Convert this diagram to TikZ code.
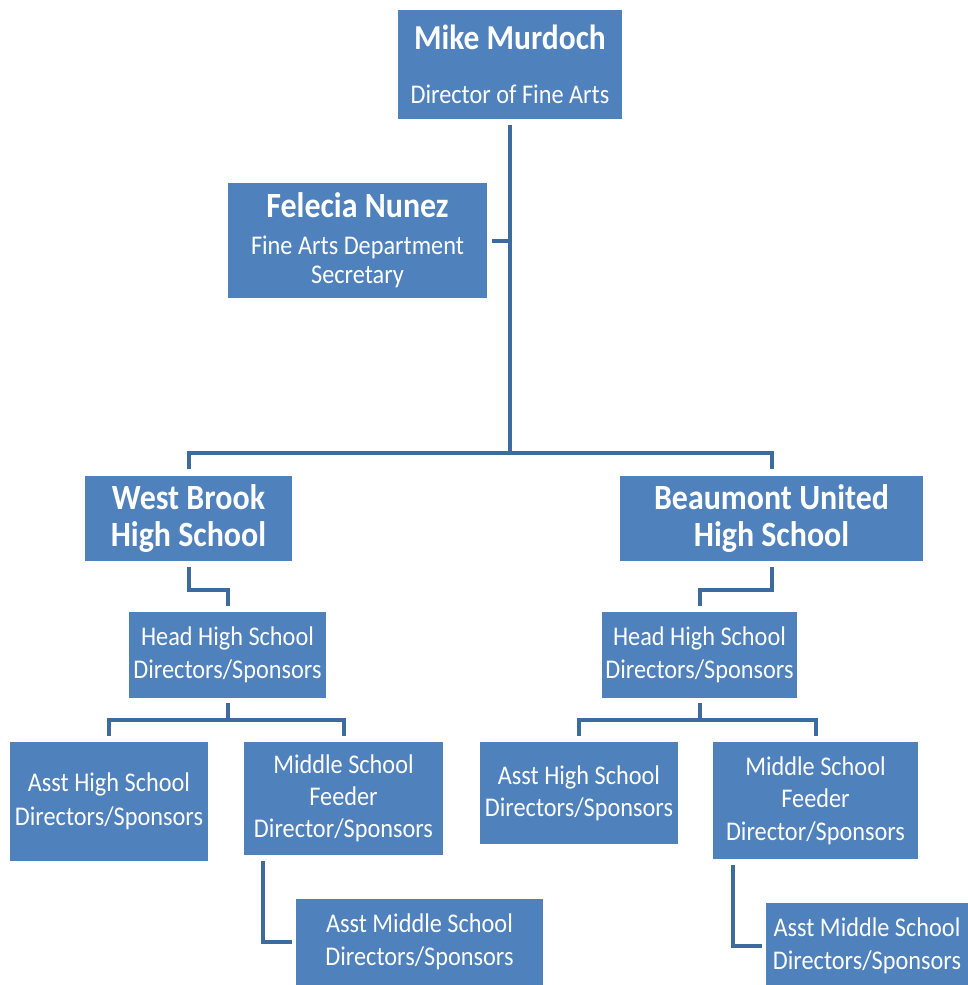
\documentclass[tikz,border=0pt]{standalone}
\usepackage{fontspec}
\setmainfont{Carlito}[FakeStretch=0.9]
\definecolor{boxblue}{HTML}{4F81BD}
\definecolor{lineblue}{HTML}{3D6B9E}
\begin{document}
\begin{tikzpicture}[x=1pt,y=-1pt,
  box/.style={fill=boxblue, text=white, inner sep=0pt, align=center,
    font=\fontsize{27}{33}\selectfont},
  bbox/.style={box, font=\bfseries\fontsize{35.5}{37}\selectfont},
  conn/.style={draw=lineblue, line width=4pt}]
\useasboundingbox (0,0) rectangle (968,985);

% boxes
\node[box, minimum width=224pt, minimum height=109pt] (mike) at (510,64.5)
  {{\bfseries\fontsize{35}{33}\selectfont Mike Murdoch}\\[21pt]Director of Fine Arts};
\node[box, minimum width=259pt, minimum height=115pt,
  font=\fontsize{27}{29}\selectfont] (fel) at (357.5,240.5)
  {{\bfseries\fontsize{35.5}{33}\selectfont Felecia Nunez}\\[8pt]Fine Arts Department\\Secretary};
\node[bbox, minimum width=207pt, minimum height=85pt] (wb) at (188.5,518.5)
  {West Brook\\High School};
\node[bbox, minimum width=303pt, minimum height=85pt] (bu) at (771.5,518.5)
  {Beaumont United\\High School};
\node[box, minimum width=197pt, minimum height=86pt] (hl) at (227.5,655)
  {Head High School\\Directors/Sponsors};
\node[box, minimum width=195pt, minimum height=86pt] (hr) at (699.5,655)
  {Head High School\\Directors/Sponsors};
\node[box, minimum width=198pt, minimum height=119pt,
  font=\fontsize{27}{34}\selectfont] (ahl) at (109,801.5)
  {Asst High School\\Directors/Sponsors};
\node[box, minimum width=199pt, minimum height=113pt,
  font=\fontsize{27}{32}\selectfont] (msl) at (343.5,798.5)
  {Middle School\\Feeder\\Director/Sponsors};
\node[box, minimum width=247pt, minimum height=86pt,
  font=\fontsize{27}{32.5}\selectfont] (amsl) at (419.5,942)
  {Asst Middle School\\Directors/Sponsors};
\node[box, minimum width=198pt, minimum height=102pt,
  font=\fontsize{27}{32}\selectfont] (ahr) at (579,793)
  {Asst High School\\Directors/Sponsors};
\node[box, minimum width=205pt, minimum height=117pt,
  font=\fontsize{27}{32.5}\selectfont] (msr) at (815.5,800.5)
  {Middle School\\Feeder\\Director/Sponsors};
\node[box, minimum width=202pt, minimum height=86pt,
  font=\fontsize{27}{33}\selectfont] (amsr) at (867,946)
  {Asst Middle School\\Directors/Sponsors};

% junction coordinates
\coordinate (j1) at (510,453);
\coordinate (lvA) at (0,590);
\coordinate (lvB) at (0,720);
\coordinate (kL) at (263,0);
\coordinate (kR) at (733,0);

% connectors
\draw[conn, shorten <=6pt] (mike.south) -- (j1);
\draw[conn, shorten <=5pt] (fel.east) -- (fel.east -| j1);
\draw[conn, shorten <=7pt, shorten >=7pt] (wb.north) |- (j1) -| (bu.north);
\draw[conn, shorten <=6pt, shorten >=6pt] (wb.south) -- (wb.south |- lvA) -| (hl.north);
\draw[conn, shorten <=6pt, shorten >=6pt] (bu.south) -- (bu.south |- lvA) -| (hr.north);
\draw[conn, shorten <=5pt] (hl.south) -- (hl.south |- lvB);
\draw[conn, shorten <=6pt, shorten >=6pt] (ahl.north) |- (hl.south |- lvB) -| (msl.north);
\draw[conn, shorten <=5pt] (hr.south) -- (hr.south |- lvB);
\draw[conn, shorten <=6pt, shorten >=6pt] (ahr.north) |- (hr.south |- lvB) -| (msr.north);
\draw[conn, shorten <=6pt, shorten >=4pt] (msl.south -| kL) |- (amsl.west);
\draw[conn, shorten <=6pt, shorten >=4pt] (msr.south -| kR) |- (amsr.west);
\end{tikzpicture}
\end{document}
